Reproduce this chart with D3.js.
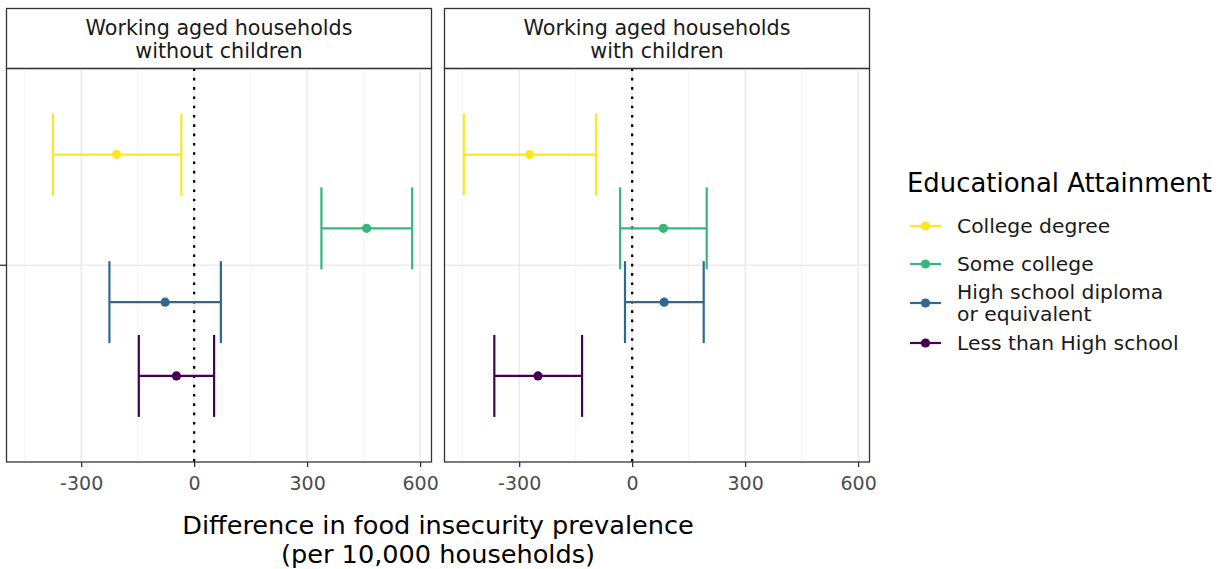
<!DOCTYPE html>
<html>
<head>
<meta charset="utf-8">
<script src="https://cdn.jsdelivr.net/npm/d3@7"></script>
<style>
  html, body { margin: 0; padding: 0; background: #fff; }
  svg text { font-family: "DejaVu Sans", sans-serif; }
</style>
</head>
<body>
<svg id="chart" width="1225" height="569"></svg>
<script>
// Household types (facets)
const panels = ["Working aged households\nwithout children", "Working aged households\nwith children"];

// Educational attainment groups, top to bottom within the single row
const groups = ["College degree", "Some college", "High school diploma\nor equivalent", "Less than High school"];
const groupColors = ["#FDE725", "#35B779", "#31688E", "#440154"];

// Point estimates and 95% intervals, one value per group, per panel
const estNoChildren   = [-206, 458, -77, -47];
const lowNoChildren   = [-375, 338, -225, -147];
const highNoChildren  = [-34, 579, 71, 53];

const estChildren     = [-272, 83, 85, -250];
const lowChildren     = [-447, -32, -19, -366];
const highChildren    = [-96, 198, 190, -133];

const xTicks = [-300, 0, 300, 600];
const xMinor = [-450, -150, 150, 450];

const panelData = [
  { title: panels[0], est: estNoChildren, low: lowNoChildren, high: highNoChildren },
  { title: panels[1], est: estChildren,   low: lowChildren,   high: highChildren }
];

const svg = d3.select("#chart");

// Layout
const panelLefts = [6.5, 444.5];
const panelW = 425;
const stripTop = 8.5, stripBottom = 68.5, plotBottom = 462;
const borderCol = "#333333";

// Shared x scale domain with 5% expansion
const allVals = [].concat(lowNoChildren, highNoChildren, lowChildren, highChildren);
const lo = d3.min(allVals), hi = d3.max(allVals);
const pad = (hi - lo) * 0.05;
const xDomain = [lo - pad, hi + pad];

// Single discrete y category with dodged groups
const yUnits = d3.scaleLinear().domain([0.4, 1.6]).range([stripBottom, plotBottom]);
const catY = yUnits(1);
const dodge = d3.scaleBand().domain(groups).range([yUnits(1 - 0.45), yUnits(1 + 0.45)]).padding(0);
const capHalf = (yUnits(1.125) - yUnits(1)) ;

panelData.forEach((p, pi) => {
  const left = panelLefts[pi];
  const x = d3.scaleLinear().domain(xDomain).range([left, left + panelW]);
  const g = svg.append("g");

  // strip
  g.append("rect").attr("x", left).attr("y", stripTop)
    .attr("width", panelW).attr("height", stripBottom - stripTop)
    .attr("fill", "#fff").attr("stroke", borderCol).attr("stroke-width", 1.3);
  const lines = p.title.split("\n");
  g.append("text").attr("x", left + panelW / 2).attr("y", 34.5)
    .attr("text-anchor", "middle").attr("font-size", 20.7).attr("fill", "#1a1a1a")
    .selectAll("tspan").data(lines).join("tspan")
    .attr("x", left + panelW / 2).attr("dy", (d, i) => i ? 23 : 0).text(d => d);

  // grid
  g.selectAll(".minor").data(xMinor).join("line")
    .attr("x1", d => x(d)).attr("x2", d => x(d))
    .attr("y1", stripBottom).attr("y2", plotBottom)
    .attr("stroke", "#f2f2f2").attr("stroke-width", 0.8);
  g.selectAll(".major").data(xTicks).join("line")
    .attr("x1", d => x(d)).attr("x2", d => x(d))
    .attr("y1", stripBottom).attr("y2", plotBottom)
    .attr("stroke", "#ebebeb").attr("stroke-width", 1.5);
  g.append("line").attr("x1", left).attr("x2", left + panelW)
    .attr("y1", catY).attr("y2", catY)
    .attr("stroke", "#ebebeb").attr("stroke-width", 1.5);

  // zero reference line
  g.append("line").attr("x1", x(0)).attr("x2", x(0))
    .attr("y1", stripBottom).attr("y2", plotBottom)
    .attr("stroke", "#000").attr("stroke-width", 2.3)
    .attr("stroke-dasharray", "2.6,6.7");

  // error bars
  groups.forEach((grp, gi) => {
    const cy = dodge(grp) + dodge.bandwidth() / 2;
    const col = groupColors[gi];
    const eb = g.append("g").attr("stroke", col).attr("stroke-width", 2.2).attr("fill", "none");
    eb.append("line").attr("x1", x(p.low[gi])).attr("x2", x(p.high[gi])).attr("y1", cy).attr("y2", cy);
    eb.append("line").attr("x1", x(p.low[gi])).attr("x2", x(p.low[gi])).attr("y1", cy - capHalf).attr("y2", cy + capHalf);
    eb.append("line").attr("x1", x(p.high[gi])).attr("x2", x(p.high[gi])).attr("y1", cy - capHalf).attr("y2", cy + capHalf);
    g.append("circle").attr("cx", x(p.est[gi])).attr("cy", cy).attr("r", 4.6).attr("fill", col);
  });

  // panel border
  g.append("rect").attr("x", left).attr("y", stripBottom)
    .attr("width", panelW).attr("height", plotBottom - stripBottom)
    .attr("fill", "none").attr("stroke", borderCol).attr("stroke-width", 1.3);

  // x axis
  const ax = g.append("g").attr("transform", `translate(0,${plotBottom})`)
    .call(d3.axisBottom(x).tickValues(xTicks).tickSize(5).tickPadding(10).tickFormat(d3.format("d")));
  ax.select(".domain").remove();
  ax.selectAll(".tick line").attr("stroke", borderCol).attr("stroke-width", 1.3);
  ax.selectAll(".tick text").attr("font-size", 19).attr("fill", "#4d4d4d")
    .attr("font-family", "DejaVu Sans, sans-serif").text(d => d < 0 ? "-" + Math.abs(d) : d);

  // y axis tick (blank label)
  if (pi === 0) {
    g.append("line").attr("x1", 0).attr("x2", left).attr("y1", catY).attr("y2", catY)
      .attr("stroke", borderCol).attr("stroke-width", 1.3);
  }
});

// x axis title, two lines
const xTitle = ["Difference in food insecurity prevalence", "(per 10,000 households)"];
svg.selectAll(".xtitle").data(xTitle).join("text")
  .attr("x", 438).attr("y", (d, i) => 534 + i * 28.5).attr("text-anchor", "middle")
  .attr("font-size", 25.6).attr("fill", "#000").text(d => d);

// legend
const legend = svg.append("g");
legend.append("text").attr("x", 907).attr("y", 192).attr("font-size", 25.9).attr("fill", "#000")
  .text("Educational Attainment");
const keyY = [226, 264, 303, 343];
groups.forEach((grp, gi) => {
  const y = keyY[gi];
  legend.append("line").attr("x1", 910).attr("x2", 941).attr("y1", y).attr("y2", y)
    .attr("stroke", groupColors[gi]).attr("stroke-width", 2.2);
  legend.append("circle").attr("cx", 925.5).attr("cy", y).attr("r", 4.6).attr("fill", groupColors[gi]);
  const lines = grp.split("\n");
  const t = legend.append("text").attr("x", 957).attr("font-size", 20.3).attr("fill", "#1a1a1a");
  const y0 = y + 7 - (lines.length - 1) * 11;
  t.selectAll("tspan").data(lines).join("tspan")
    .attr("x", 957).attr("y", (d, i) => y0 + i * 22).text(d => d);
});
</script>
</body>
</html>
